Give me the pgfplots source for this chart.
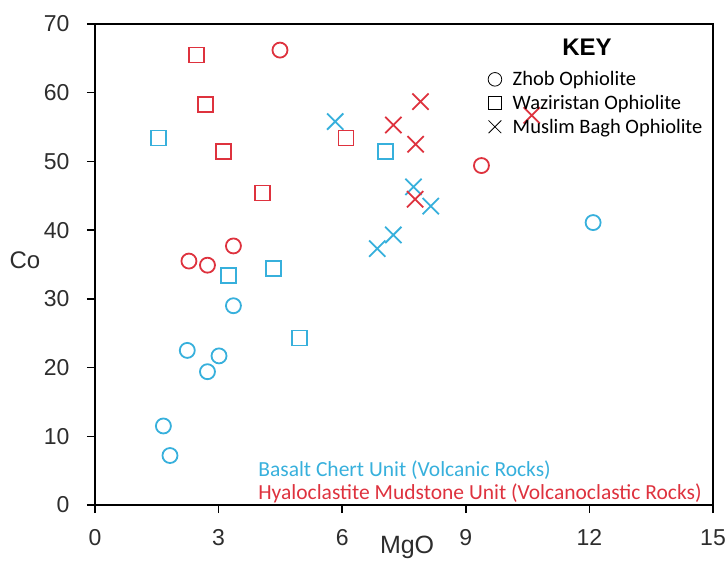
\documentclass[border=0pt]{standalone}
\usepackage{fontspec}
\setmainfont{Liberation Sans}
\newfontfamily\calibri{Carlito}
\usepackage{pgfplots}
\pgfplotsset{compat=1.18}

\definecolor{basalt}{RGB}{55,176,220}
\definecolor{hyalo}{RGB}{222,50,62}
\definecolor{labeltext}{RGB}{45,45,45}

% MgO (x) and Co (y) for each unit and ophiolite
\pgfplotstableread{
x y
1.66 11.5
1.82 7.2
2.24 22.5
2.73 19.4
3.01 21.7
3.36 29.0
12.09 41.1
}\basaltZhob
\pgfplotstableread{
x y
1.54 53.4
3.24 33.4
4.34 34.4
4.96 24.3
7.06 51.4
}\basaltWaz
\pgfplotstableread{
x y
5.83 55.8
6.85 37.3
7.24 39.3
7.73 46.3
8.15 43.5
}\basaltMB
\pgfplotstableread{
x y
2.28 35.5
2.73 34.9
3.36 37.7
4.49 66.2
9.38 49.4
}\hyaloZhob
\pgfplotstableread{
x y
2.47 65.5
2.68 58.3
3.11 51.4
4.06 45.4
6.09 53.4
}\hyaloWaz
\pgfplotstableread{
x y
7.24 55.3
7.77 44.5
7.78 52.5
7.90 58.7
10.60 56.7
}\hyaloMB

\begin{document}
\begin{tikzpicture}
\begin{axis}[
  at={(0,0)}, anchor=south west,
  scale only axis, width=618bp, height=481bp,
  xmin=0, xmax=15, ymin=0, ymax=70,
  xtick={0,3,...,15}, ytick={0,10,...,70},
  tick pos=left, tick align=outside,
  major tick length=8bp,
  axis line style={line width=1.5bp, black},
  tick style={line width=1.5bp, black},
  ticklabel style={font=\fontsize{23bp}{23bp}\selectfont, text=labeltext},
  /pgf/number format/assume math mode=true,
  yticklabel style={xshift=-14bp},
  xticklabel style={yshift=-13bp},
  xlabel={MgO}, ylabel={Co},
  xlabel style={at={(axis description cs:0.505,0)}, anchor=center, yshift=-42bp,
    font=\fontsize{25bp}{25bp}\selectfont, text=labeltext},
  ylabel style={at={(axis description cs:0,0.509)}, rotate=-90, anchor=center, xshift=-70bp,
    font=\fontsize{24bp}{24bp}\selectfont, text=labeltext},
  clip=false,
  legend style={at={(rel axis cs:0.631,0.91)}, anchor=north west, draw=none, fill=none,
    font=\calibri\fontsize{20.5bp}{24bp}\selectfont, row sep=4bp,
    /tikz/every odd column/.append style={column sep=9bp}},
  legend cell align=left,
  every axis plot/.append style={only marks, line width=1.8bp},
]
% legend key in black
\addlegendimage{only marks, mark=o, mark size=6.8bp, black, line width=0.8bp}
\addlegendentry{Zhob Ophiolite}
\addlegendimage{only marks, mark=square, mark size=6.5bp, black, line width=0.8bp}
\addlegendentry{Waziristan Ophiolite}
\addlegendimage{only marks, mark=x, mark size=9bp, black, line width=0.8bp}
\addlegendentry{Muslim Bagh Ophiolite}

% Basalt Chert Unit
\addplot[basalt, mark=o, mark size=7.5bp, forget plot] table {\basaltZhob};
\addplot[basalt, mark=square, mark size=7.5bp, forget plot] table {\basaltWaz};
\addplot[basalt, mark=x, mark size=11.5bp, forget plot] table {\basaltMB};
% Hyaloclastite Mudstone Unit
\addplot[hyalo, mark=o, mark size=7.5bp, forget plot] table {\hyaloZhob};
\addplot[hyalo, mark=square, mark size=7.5bp, forget plot] table {\hyaloWaz};
\addplot[hyalo, mark=x, mark size=11.5bp, forget plot] table {\hyaloMB};

\node[font=\bfseries\fontsize{24bp}{24bp}\selectfont] at (rel axis cs:0.796,0.952) {KEY};
\node[anchor=base west, inner sep=0pt, text=basalt, font=\calibri\fontsize{21.5bp}{21.5bp}\selectfont]
  at (rel axis cs:0.264,0.059) {Basalt Chert Unit (Volcanic Rocks)};
\node[anchor=base west, inner sep=0pt, text=hyalo, font=\calibri\fontsize{21.5bp}{21.5bp}\selectfont]
  at (rel axis cs:0.264,0.0104) {Hyaloclastite Mudstone Unit (Volcanoclastic Rocks)};
\end{axis}
\pgfresetboundingbox
\path (-95bp,-63bp) rectangle (633bp,505bp);
\end{tikzpicture}
\end{document}
